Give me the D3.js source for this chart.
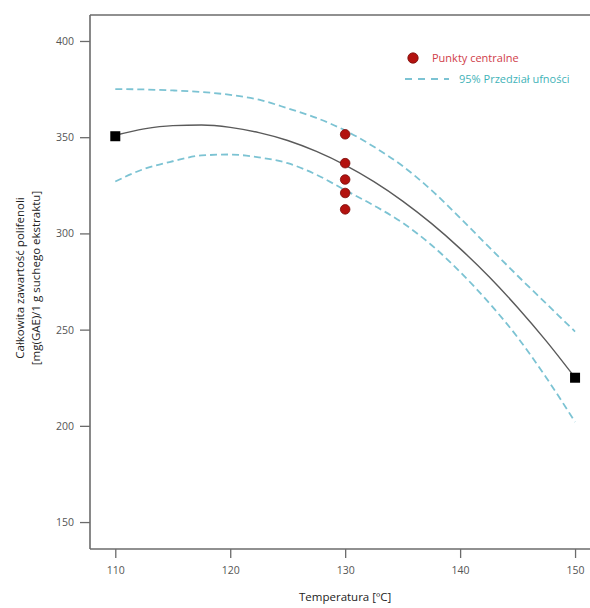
<!DOCTYPE html>
<html>
<head>
<meta charset="utf-8">
<script src="https://cdn.jsdelivr.net/npm/d3@7"></script>
<style>
  html, body { margin: 0; padding: 0; background: #fff; }
  svg { display: block; font-family: "Open Sans", "Noto Sans", sans-serif; }
</style>
</head>
<body>
<svg id="chart" width="590" height="608"></svg>
<script>
// Temperature grid for the fitted model and its confidence band
const temps = [110, 112.5, 115, 117.5, 120, 122.5, 125, 127.5, 130, 132.5, 135, 137.5, 140, 142.5, 145, 147.5, 150];
const fitted = [351, 354.3, 356.0, 356.3, 355.1, 352.4, 348.3, 342.6, 335.5, 326.9, 316.8, 305.2, 292.1, 277.6, 261.5, 244.0, 225];
const upper95 = [375, 374.8, 374.3, 373.5, 372, 369.5, 365, 360, 353.5, 345, 335, 322.5, 308, 293, 278, 263.5, 249];
const lower95 = [327, 333.5, 337.5, 340.5, 341, 339.5, 336.5, 330.5, 322.5, 314.5, 305.5, 294, 280, 264, 246, 225, 202];

// Factorial (edge) points and replicated centre points
const edgeTemps = [110, 150];
const edgeValues = [350.5, 225];
const centerTemps = [130, 130, 130, 130, 130];
const centerValues = [351.5, 336.5, 328, 321, 312.5];

const xTicks = [110, 120, 130, 140, 150];
const yTicks = [150, 200, 250, 300, 350, 400];

const legendLabels = ["Punkty centralne", "95% Przedział ufności"];
const xTitle = "Temperatura [ºC]";
const yTitle = ["Całkowita zawartość polifenoli", "[mg(GAE)/1 g suchego ekstraktu]"];

const svg = d3.select("#chart");
const plotLeft = 90, plotRight = 590, plotTop = 15, plotBottom = 549;

const x = d3.scaleLinear().domain([107.8, 151.3]).range([plotLeft, plotRight]);
const y = d3.scaleLinear().domain([136, 413.5]).range([plotBottom, plotTop]);

const axisColor = "#6b6b6b";

// Frame: top border line
svg.append("line")
  .attr("x1", plotLeft).attr("x2", plotRight)
  .attr("y1", plotTop).attr("y2", plotTop)
  .attr("stroke", axisColor).attr("stroke-width", 1.6);

// X axis
const xAxis = svg.append("g")
  .attr("transform", `translate(0,${plotBottom})`)
  .call(d3.axisBottom(x).tickValues(xTicks).tickSize(9).tickPadding(9).tickSizeOuter(0));
xAxis.select(".domain").attr("stroke", axisColor).attr("stroke-width", 1.6)
  .attr("d", `M${plotLeft},0H${plotRight}`);
xAxis.selectAll(".tick line").attr("stroke", axisColor).attr("stroke-width", 1.3);
xAxis.selectAll(".tick text").attr("fill", "#555").attr("font-size", 10.5)
  .attr("font-family", "Open Sans, Noto Sans, sans-serif");

// Y axis
const yAxis = svg.append("g")
  .attr("transform", `translate(${plotLeft},0)`)
  .call(d3.axisLeft(y).tickValues(yTicks).tickSize(10).tickPadding(6).tickSizeOuter(0));
yAxis.select(".domain").attr("stroke", axisColor).attr("stroke-width", 1.6)
  .attr("d", `M0,${plotTop}V${plotBottom}`);
yAxis.selectAll(".tick line").attr("stroke", axisColor).attr("stroke-width", 1.3);
yAxis.selectAll(".tick text").attr("fill", "#555").attr("font-size", 10.5)
  .attr("font-family", "Open Sans, Noto Sans, sans-serif");

// Axis titles
svg.append("text")
  .attr("x", x(130)).attr("y", 601)
  .attr("text-anchor", "middle")
  .attr("font-size", 11.5).attr("fill", "#222")
  .text(xTitle);

const yMid = (plotTop + plotBottom) / 2 - 4;
yTitle.forEach((t, i) => {
  svg.append("text")
    .attr("transform", `translate(${24 + i * 16},${yMid}) rotate(-90)`)
    .attr("text-anchor", "middle")
    .attr("font-size", 11.5).attr("fill", "#222")
    .text(t);
});

// Confidence band and fitted curve
const line = (vals) => d3.line()
  .x((d, i) => x(temps[i]))
  .y(d => y(d))
  .curve(d3.curveMonotoneX)(vals);

const bandColor = "#7cc3d3";
[upper95, lower95].forEach(vals => {
  svg.append("path")
    .attr("d", line(vals))
    .attr("fill", "none")
    .attr("stroke", bandColor)
    .attr("stroke-width", 1.8)
    .attr("stroke-dasharray", "7,4");
});

svg.append("path")
  .attr("d", line(fitted))
  .attr("fill", "none")
  .attr("stroke", "#5a5a5a")
  .attr("stroke-width", 1.4);

// Edge points (squares)
const sq = 10;
svg.selectAll("rect.edge")
  .data(edgeTemps)
  .join("rect")
  .attr("class", "edge")
  .attr("x", d => x(d) - sq / 2)
  .attr("y", (d, i) => y(edgeValues[i]) - sq / 2)
  .attr("width", sq).attr("height", sq)
  .attr("fill", "#000");

// Centre points
const dotFill = "#b3120f";
svg.selectAll("circle.center")
  .data(centerValues)
  .join("circle")
  .attr("class", "center")
  .attr("cx", (d, i) => x(centerTemps[i]))
  .attr("cy", d => y(d))
  .attr("r", 4.8)
  .attr("fill", dotFill)
  .attr("stroke", "#7a0c0a")
  .attr("stroke-width", 0.8);

// Legend
const legend = svg.append("g");
legend.append("circle")
  .attr("cx", 413).attr("cy", 58).attr("r", 5.2)
  .attr("fill", dotFill).attr("stroke", "#7a0c0a").attr("stroke-width", 0.8);
legend.append("text")
  .attr("x", 432).attr("y", 62)
  .attr("font-size", 11).attr("fill", "#d0404a")
  .text(legendLabels[0]);
legend.append("line")
  .attr("x1", 405).attr("x2", 449).attr("y1", 79).attr("y2", 79)
  .attr("stroke", bandColor).attr("stroke-width", 1.8)
  .attr("stroke-dasharray", "7,6");
legend.append("text")
  .attr("x", 459).attr("y", 83)
  .attr("font-size", 11).attr("fill", "#3fb3b8")
  .text(legendLabels[1]);
</script>
</body>
</html>
